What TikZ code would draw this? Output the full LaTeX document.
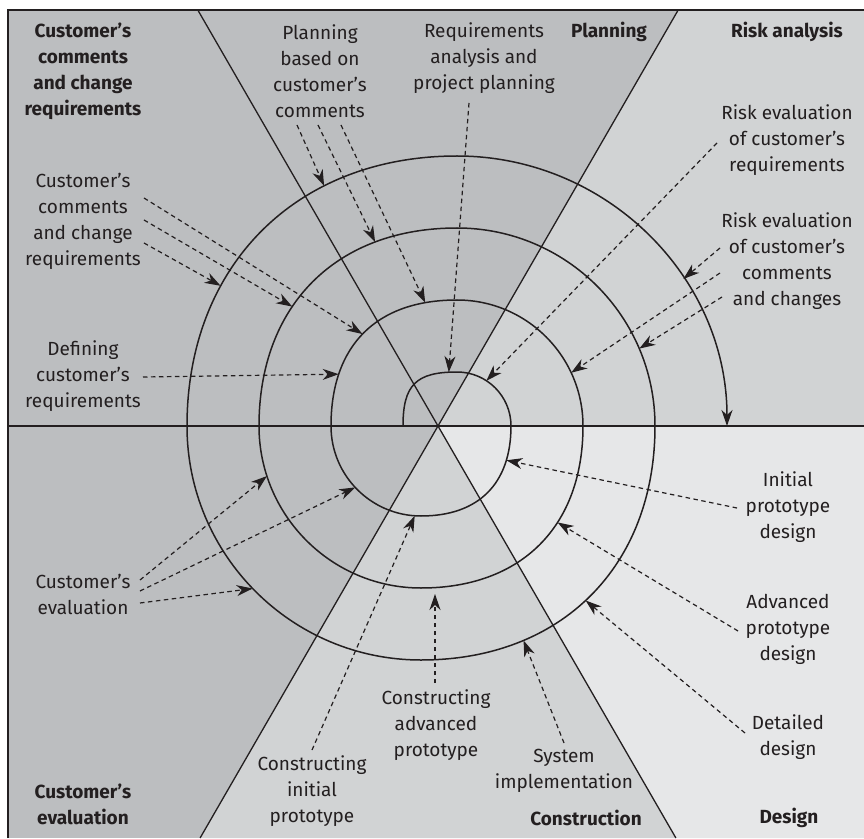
\documentclass[tikz,border=0pt]{standalone}
\usepackage{fontspec}
\setmainfont{Fira Sans}
\usetikzlibrary{arrows.meta,calc}
\definecolor{ink}{HTML}{231F20}
\definecolor{gmed}{HTML}{BCBEC0}
\definecolor{glight}{HTML}{D1D3D4}
\definecolor{glite}{HTML}{E6E7E8}
\begin{document}
\begin{tikzpicture}[x=1pt,y=1pt,
  lbl/.style={font=\fontsize{19}{26}\selectfont, text=ink, align=center, inner sep=0pt},
  hdr/.style={lbl, font=\fontsize{19}{26}\selectfont\bfseries},
  ptr/.style={ink, line width=1.2pt, dash pattern=on 4.5pt off 3.5pt, -{Stealth[length=16pt,width=11pt,inset=5pt]}},
  divider/.style={ink, line width=1.3pt},
  spiralline/.style={ink, line width=1.5pt}]
\useasboundingbox (-438,-412) rectangle (426,426);
\fill[white] (-438,-412) rectangle (426,426);
\fill[gmed] (-430,-412) rectangle (426,416);
\fill[glight] (0,0) -- (240.2,416) -- (426,416) -- (426,0) -- cycle;
\fill[glite] (0,0) -- (426,0) -- (426,-412) -- (237.9,-412) -- cycle;
\fill[glight] (0,0) -- (237.9,-412) -- (-237.9,-412) -- cycle;
\draw[divider] (-430,-412) -- (-430,416) -- (426,416);
\draw[divider] (-430,0) -- (426,0);
\draw[divider] (-240.2,416) -- (237.9,-412);
\draw[divider] (240.2,416) -- (-237.9,-412);
% spiral centres of the circular quarters
\coordinate (UR) at (19,0);
\coordinate (LL) at (-17,0);
\draw[spiralline, -{Stealth[length=16pt,width=11pt,inset=5pt]}]
  (-35,0) .. controls (-35,54*0.76) and (19-54*0.76,54) .. (19,54)
          coordinate[pos=0.93] (tA4)
  arc[start angle=90,end angle=0,radius=54]
  .. controls (73,-90*0.64) and (-17+90*0.64,-90) .. (-17,-90)
          coordinate[pos=0.22] (tI)
  arc[start angle=270,end angle=180,radius=90]
  .. controls (-107,126*0.64) and (19-126*0.64,126) .. (19,126)
          coordinate[pos=0.24] (tD) coordinate[pos=0.49] (tC1) coordinate[pos=0.86] (tA3)
  arc[start angle=90,end angle=0,radius=126]
  .. controls (145,-162*0.62) and (-17+162*0.62,-162) .. (-17,-162)
          coordinate[pos=0.38] (tAd)
  arc[start angle=270,end angle=180,radius=162]
  .. controls (-179,198*0.61) and (19-198*0.61,198) .. (19,198)
          coordinate[pos=0.39] (tC2) coordinate[pos=0.75] (tA2)
  arc[start angle=90,end angle=0,radius=198]
  .. controls (217,-234*0.60) and (-17+234*0.60,-234) .. (-17,-234)
          coordinate[pos=0.52] (tDd) coordinate[pos=0.73] (tS)
  arc[start angle=270,end angle=180,radius=234]
  .. controls (-251,270*0.595) and (19-270*0.595,270) .. (19,270)
          coordinate[pos=0.33] (tC3) coordinate[pos=0.69] (tA1)
  arc[start angle=90,end angle=0,radius=270];
% labels
\node[hdr] (hTL) at (-355,355) {Customer’s\\comments\\and change\\requirements};
\node[lbl] (nPlan) at (-118,355) {Planning\\based on\\customer’s\\comments};
\node[lbl] (nReq) at (46,368) {Requirements\\analysis and\\project planning};
\node[hdr] (hPlan) at (171,394) {Planning};
\node[hdr] (hRisk) at (349,394) {Risk analysis};
\node[lbl] (nRisk1) at (349,286) {Risk evaluation\\of customer’s\\requirements};
\node[lbl] (nRisk2) at (349,165) {Risk evaluation\\of customer’s\\comments\\and changes};
\node[lbl] (nCom) at (-355,205) {Customer’s\\comments\\and change\\requirements};
\node[lbl] (nDef) at (-355,50) {Defining\\customer’s\\requirements};
\node[lbl] (nEval) at (-355,-168) {Customer’s\\evaluation};
\node[hdr] (hEval) at (-355,-378) {Customer’s\\evaluation};
\node[lbl] (nCI) at (-126,-365) {Constructing\\initial\\prototype};
\node[lbl] (nCA) at (-2,-299) {Constructing\\advanced\\prototype};
\node[lbl] (nSys) at (126,-345) {System\\implementation};
\node[hdr] (hCon) at (148,-392) {Construction};
\node[hdr] (hDes) at (351,-392) {Design};
\node[lbl] (nIPD) at (350,-81) {Initial\\prototype\\design};
\node[lbl] (nAPD) at (350,-203) {Advanced\\prototype\\design};
\node[lbl] (nDD) at (350,-311) {Detailed\\design};
% arrow start points
\coordinate (sA1) at (-141,301);
\coordinate (sA2) at (-120,301);
\coordinate (sA3) at (-97,301);
\coordinate (sA4) at (31,323);
\coordinate (sK1) at (279,283);
\coordinate (sR1) at (282,178);
\coordinate (sR2) at (282,153);
\coordinate (sR3) at (284,129);
\coordinate (sC1) at (-294,228);
\coordinate (sC2) at (-294,206);
\coordinate (sC3) at (-294,183);
\coordinate (sD) at (-295,49);
\coordinate (sE1) at (-298,-154);
\coordinate (sE2) at (-298,-165);
\coordinate (sE3) at (-298,-177);
\coordinate (sCI) at (-126,-324);
\coordinate (sCA) at (-3,-257);
\coordinate (sS) at (126,-317);
\coordinate (sI) at (299,-82);
\coordinate (sAd) at (300,-205);
\coordinate (sDd) at (307,-307);
% arrow tips on the circular quarters
\coordinate (tK1) at ($(UR)+(57:54)$);
\coordinate (tR1) at ($(UR)+(33:270)$);
\coordinate (tR2) at ($(UR)+(25:126)$);
\coordinate (tR3) at ($(UR)+(23:198)$);
\coordinate (tE1) at ($(LL)+(198:162)$);
\coordinate (tE2) at ($(LL)+(223:90)$);
\coordinate (tE3) at ($(LL)+(224:234)$);
\coordinate (tCI) at ($(LL)+(266:90)$);
\coordinate (tCA) at (-3,-168);
\foreach \s/\t in {sA1/tA1,sA2/tA2,sA3/tA3,sA4/tA4,sK1/tK1,sR1/tR1,sR2/tR2,sR3/tR3,sC1/tC1,sC2/tC2,sC3/tC3,sD/tD,sE1/tE1,sE2/tE2,sE3/tE3,sCI/tCI,sCA/tCA,sS/tS,sI/tI,sAd/tAd,sDd/tDd}
  \draw[ptr] (\s) -- (\t);
\end{tikzpicture}
\end{document}
